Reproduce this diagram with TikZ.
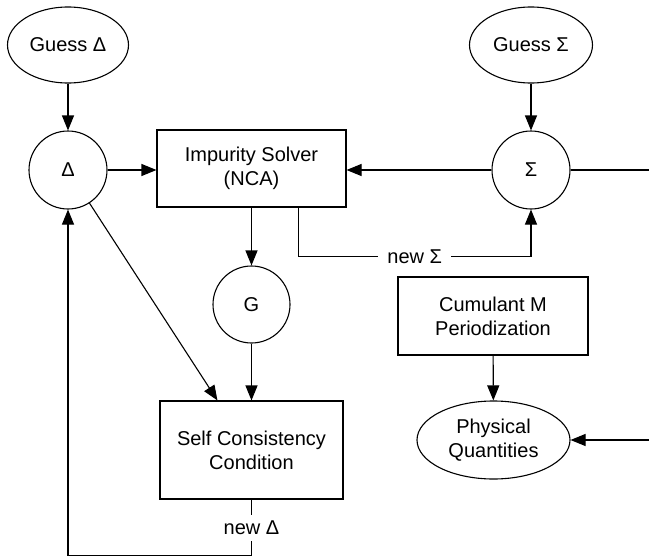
\documentclass[tikz,border=0pt]{standalone}
\usepackage{fontspec}
\setmainfont{Liberation Sans}
\usetikzlibrary{shapes.geometric,arrows.meta}
\begin{document}
\begin{tikzpicture}[x=1pt,y=-1pt,
  every node/.style={font=\fontsize{20}{24}\selectfont, align=center, inner sep=0pt},
  line/.style={line width=1.1pt},
  arr/.style={line width=1.1pt, -{Triangle[length=15pt,width=12pt]}},
  ell/.style={draw, line width=1.1pt, ellipse},
  circ/.style={draw, line width=1.1pt, circle, minimum size=78pt},
  boxnode/.style={draw, line width=1.1pt, rectangle},
  lbl/.style={fill=white, inner xsep=9pt, inner ysep=6pt}
]
\useasboundingbox (0,0) rectangle (649,557);

\node[ell, minimum width=121pt, minimum height=76pt] (gd) at (68,45) {Guess Δ};
\node[ell, minimum width=123pt, minimum height=76pt] (gs) at (531,45) {Guess Σ};
\node[circ] (d) at (68,170) {Δ};
\node[circ] (s) at (531,170) {Σ};
\node[boxnode, minimum width=189pt, minimum height=77pt] (imp) at (251.5,168.5) {Impurity Solver\\(NCA)};
\node[circ, minimum size=77pt] (g) at (251.5,304.5) {G};
\node[boxnode, minimum width=183pt, minimum height=98pt] (sc) at (251.5,450) {Self Consistency\\Condition};
\node[boxnode, minimum width=190pt, minimum height=78pt] (cm) at (493,316) {Cumulant M\\Periodization};
\node[ell, minimum width=153pt, minimum height=78pt] (pq) at (493.5,440) {Physical\\Quantities};

\coordinate (scin) at ([xshift=58pt]sc.north west);
\coordinate (eastS) at (649,170);
\coordinate (eastP) at (649,440);

\draw[arr] (gd) -- (d);
\draw[arr] (gs) -- (s);
\draw[arr] (d.east) -- (d.east -| imp.west);
\draw[arr] (s.west) -- (s.west -| imp.east);
\draw[line] (s.east) -- (eastS);
\draw[arr] (imp) -- (g);
\draw[arr] (g) -- (sc);
\draw[arr] (d) -- (scin);
\draw[arr] (cm) -- (pq);
\draw[arr] (eastP) -- (pq.east);
\draw[arr] ([xshift=-48pt]imp.south east) -- ++(0,49) -| node[pos=0.25, lbl] {new Σ} (s.south);
\draw[arr] (sc.south) -- ++(0,56) node[midway, lbl] {new Δ} -| (d.south);
\end{tikzpicture}
\end{document}
